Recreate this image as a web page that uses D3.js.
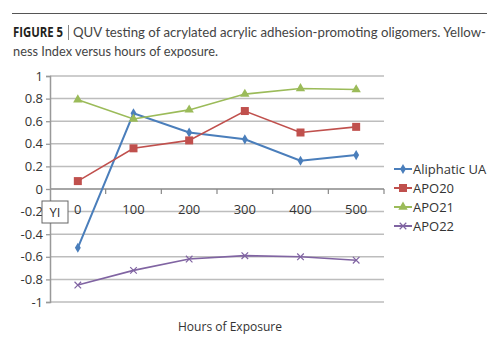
<!DOCTYPE html>
<html>
<head>
<meta charset="utf-8">
<script src="https://cdnjs.cloudflare.com/ajax/libs/d3/7.8.5/d3.min.js"></script>
<style>
  body { margin: 0; background: #fff; }
  text { font-family: "Open Sans", "Noto Sans", sans-serif; fill: #333; }
</style>
</head>
<body>
<div id="chart"></div>
<script>
// hours of exposure (categories)
var hours = ["0", "100", "200", "300", "400", "500"]
var seriesNames = ["Aliphatic UA", "APO20", "APO21", "APO22"]
var aliphaticUA = [-0.52, 0.67, 0.50, 0.44, 0.25, 0.30]
var apo20 = [0.07, 0.36, 0.43, 0.69, 0.50, 0.55]
var apo21 = [0.79, 0.62, 0.70, 0.84, 0.89, 0.88]
var apo22 = [-0.85, -0.72, -0.62, -0.59, -0.60, -0.63]
var yTicks = [1, 0.8, 0.6, 0.4, 0.2, 0, -0.2, -0.4, -0.6, -0.8, -1]
var colors = ["#4a7ebb", "#c0504d", "#9bbb59", "#8064a2"]
var symbols = ["diamond", "square", "triangle", "cross"]

var width = 500
var height = 344

var svg = d3.select("#chart").append("svg")
    .attr("width", width)
    .attr("height", height)

// caption
svg.append("line")
  .attr("x1", 12).attr("x2", 487)
  .attr("y1", 13.5).attr("y2", 13.5)
  .attr("stroke", "#555").attr("stroke-width", 1.2)

svg.append("text")
  .attr("x", 13).attr("y", 37)
  .attr("font-size", 13.5).attr("font-weight", "bold")
  .attr("textLength", 50).attr("lengthAdjust", "spacingAndGlyphs")
  .style("fill", "#231f20")
  .text("FIGURE 5")
svg.append("line")
  .attr("x1", 68.5).attr("x2", 68.5).attr("y1", 25).attr("y2", 40)
  .attr("stroke", "#888").attr("stroke-width", 1)
svg.append("text")
  .attr("x", 73).attr("y", 37)
  .attr("font-size", 13.5)
  .style("font-family", "Lato, 'Open Sans', sans-serif")
  .attr("textLength", 413).attr("lengthAdjust", "spacingAndGlyphs")
  .style("fill", "#444")
  .text("QUV testing of acrylated acrylic adhesion-promoting oligomers. Yellow-")

svg.append("text")
  .attr("x", 13).attr("y", 56)
  .attr("font-size", 13.5)
  .style("font-family", "Lato, 'Open Sans', sans-serif")
  .attr("textLength", 205).attr("lengthAdjust", "spacingAndGlyphs")
  .style("fill", "#444")
  .text("ness Index versus hours of exposure.")

// plot area
var plotLeft = 50, plotRight = 384, plotTop = 76, plotBottom = 302

var x = d3.scaleBand().domain(hours).range([plotLeft, plotRight])
var y = d3.scaleLinear().domain([-1, 1]).range([plotBottom, plotTop])

// gridlines
svg.selectAll(".grid").data(yTicks).enter().append("line")
  .attr("x1", plotLeft).attr("x2", plotRight)
  .attr("y1", function(d){ return y(d) }).attr("y2", function(d){ return y(d) })
  .attr("stroke", function(d){ return d == 0 ? "#888" : "#bdbdbd" })
  .attr("stroke-width", function(d){ return d == 0 ? 1.3 : 1.5 })

// y axis
var yAxis = d3.axisLeft(y).tickValues(yTicks).tickSize(4).tickPadding(3)
  .tickFormat(function(d){ return String(d) })
var gy = svg.append("g").attr("transform", "translate(" + plotLeft + ",0)").call(yAxis)
gy.select(".domain").attr("stroke", "#999").attr("stroke-width", 1.5)
gy.selectAll(".tick line").attr("stroke", "#999").attr("stroke-width", 1.3)
gy.selectAll(".tick text").attr("font-size", 13).style("fill", "#333")

// x axis sitting on zero
var bounds = hours.map(function(h){ return x(h) }).concat([plotRight])
svg.selectAll(".xtick").data(bounds.slice(1)).enter().append("line")
  .attr("x1", function(d){ return d }).attr("x2", function(d){ return d })
  .attr("y1", y(0)).attr("y2", y(0) + 5)
  .attr("stroke", "#888").attr("stroke-width", 1.2)

svg.selectAll(".xlabel").data(hours).enter().append("text")
  .attr("x", function(d){ return x(d) + x.bandwidth() / 2 })
  .attr("y", y(0) + 25)
  .attr("text-anchor", "middle")
  .attr("font-size", 13)
  .text(function(d){ return d })

// YI box
svg.append("rect")
  .attr("x", 42).attr("y", 201).attr("width", 26).attr("height", 22)
  .attr("fill", "#fff").attr("stroke", "#666").attr("stroke-width", 1)
svg.append("text")
  .attr("x", 55).attr("y", 217)
  .attr("text-anchor", "middle").attr("font-size", 13)
  .text("YI")

// series
var allSeries = [aliphaticUA, apo20, apo21, apo22]
var line = d3.line()
  .x(function(d, i){ return x(hours[i]) + x.bandwidth() / 2 })
  .y(function(d){ return y(d) })

function drawMarker(g, k, cx, cy) {
  var c = colors[k]
  if (symbols[k] == "diamond") {
    g.append("path").attr("d", d3.symbol().type(d3.symbolDiamond).size(30)())
      .attr("transform", "translate(" + cx + "," + cy + ")").attr("fill", c)
  } else if (symbols[k] == "square") {
    g.append("rect").attr("x", cx - 4).attr("y", cy - 4).attr("width", 8).attr("height", 8).attr("fill", c)
  } else if (symbols[k] == "triangle") {
    g.append("path").attr("d", d3.symbol().type(d3.symbolTriangle).size(38)())
      .attr("transform", "translate(" + cx + "," + cy + ")").attr("fill", c)
  } else {
    g.append("path").attr("d", d3.symbol().type(d3.symbolX).size(30)())
      .attr("transform", "translate(" + cx + "," + cy + ")")
      .attr("fill", "none").attr("stroke", c).attr("stroke-width", 1.2)
  }
}

allSeries.forEach(function(vals, k){
  var g = svg.append("g")
  g.append("path").datum(vals)
    .attr("d", line)
    .attr("fill", "none")
    .attr("stroke", colors[k])
    .attr("stroke-width", k == 0 ? 2 : 1.6)
  vals.forEach(function(v, i){
    drawMarker(g, k, x(hours[i]) + x.bandwidth() / 2, y(v))
  })
})

// legend
seriesNames.forEach(function(name, k){
  var ly = 169 + k * 19
  var g = svg.append("g")
  g.append("line").attr("x1", 394).attr("x2", 412).attr("y1", ly).attr("y2", ly)
    .attr("stroke", colors[k]).attr("stroke-width", 2)
  drawMarker(g, k, 403, ly)
  g.append("text").attr("x", 413).attr("y", ly + 5)
    .attr("font-size", 13).text(name)
})

// x axis title
svg.append("text")
  .attr("x", 230).attr("y", 331)
  .attr("text-anchor", "middle")
  .attr("font-size", 13)
  .attr("textLength", 104).attr("lengthAdjust", "spacingAndGlyphs")
  .text("Hours of Exposure")
</script>
</body>
</html>
